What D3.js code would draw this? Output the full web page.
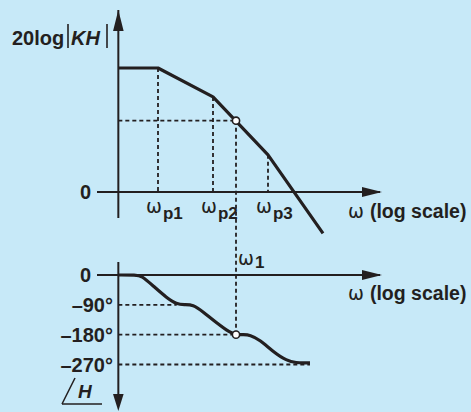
<!DOCTYPE html>
<html><head><meta charset="utf-8">
<script src="https://cdn.jsdelivr.net/npm/d3@7/dist/d3.min.js"></script>
<style>
html,body{margin:0;padding:0;background:#c7e9f8;}
svg{display:block;}
text{font-family:"Liberation Sans",Arial,sans-serif;font-weight:bold;fill:#231f20;}
</style></head>
<body>
<script>
// ---- data ----
const magOmega = [0.19, 1, 10, 100, 1000];
const magDb = [60, 60, 46, 18, -20];
const poleOmega = [1, 10, 100];
const poleLabels = ["p1", "p2", "p3"];
const omega1 = 26.2;
const magAtOmega1 = 34.5;
const phaseAtOmega1 = -180;
const phaseOmega = [0.19, 0.4, 0.5, 0.82, 1.44, 2.19, 3.0, 4.33, 6.58, 11.7, 20.4, 26.2, 36, 47, 71.5, 123, 219, 332, 450, 580];
const phaseDeg = [0, 0, -2, -33, -69, -88, -90, -89, -111, -145, -174, -180, -180, -181, -196, -231, -259, -265, -265, -265];
const phaseTicks = [-90, -180, -270];
const phaseTickLabels = ["\u201390\u00b0", "\u2013180\u00b0", "\u2013270\u00b0"];
const phaseGuideEnd = [2.19, 26.2, 580];
const xAxisLabel = "(log scale)";

const W = 471, H = 412, ink = "#231f20";
const svg = d3.select("body").append("svg").attr("width", W).attr("height", H);
svg.append("rect").attr("width", W).attr("height", H).attr("fill", "#c7e9f8");

const x = d3.scaleLog().domain([1, 100]).range([158, 268]);
const yMag = d3.scaleLinear().domain([0, 60]).range([192, 68]);
const yPh = d3.scaleLinear().domain([0, -270]).range([275, 364.5]);
const x0 = x(magOmega[0]);

const dash = "4,3";
function line(x1, y1, x2, y2, w, da) {
  svg.append("line").attr("x1", x1).attr("y1", y1).attr("x2", x2).attr("y2", y2)
    .attr("stroke", ink).attr("stroke-width", w).attr("stroke-dasharray", da || null);
}
function arrow(pts) {
  svg.append("polygon").attr("points", pts.map(p => p.join(",")).join(" ")).attr("fill", ink);
}

// ---- magnitude guides ----
const magAt = d3.scaleLog().domain(magOmega.slice(1)).range(magDb.slice(1));
poleOmega.forEach(w => line(x(w), yMag(magAt(w)), x(w), yMag(0), 1.8, dash));
line(x0, yMag(magAtOmega1), x(omega1), yMag(magAtOmega1), 1.8, dash);
line(x(omega1), yMag(magAtOmega1), x(omega1), yPh(phaseAtOmega1), 1.8, dash);

// ---- phase guides ----
phaseTicks.forEach((t, i) => line(x0, yPh(t), x(phaseGuideEnd[i]), yPh(t), 1.8, dash));

// ---- axes ----
line(x0, 10, x0, 218, 2);
arrow([[x0, 10], [x0 - 5.3, 31], [x0 + 5.3, 31]]);
line(97, yMag(0), 380, yMag(0), 2);
arrow([[382, yMag(0)], [362, yMag(0) - 5], [362, yMag(0) + 5]]);

line(x0, 262, x0, 400, 2);
arrow([[x0, 411], [x0 - 5.3, 394], [x0 + 5.3, 394]]);
line(97, yPh(0), 380, yPh(0), 2);
arrow([[382, yPh(0)], [362, yPh(0) - 5], [362, yPh(0) + 5]]);

// ---- curves ----
const magData = magOmega.map((w, i) => [w, magDb[i]]);
svg.append("path").datum(magData)
  .attr("d", d3.line().x(d => x(d[0])).y(d => yMag(d[1])))
  .attr("fill", "none").attr("stroke", ink).attr("stroke-width", 3.2).attr("stroke-linejoin", "round");

const phData = phaseOmega.map((w, i) => [w, phaseDeg[i]]);
svg.append("path").datum(phData)
  .attr("d", d3.line().curve(d3.curveBasis).x(d => x(d[0])).y(d => yPh(d[1])))
  .attr("fill", "none").attr("stroke", ink).attr("stroke-width", 3.2);

// ---- circles ----
[[omega1, yMag(magAtOmega1)], [omega1, yPh(phaseAtOmega1)]].forEach(c => {
  svg.append("circle").attr("cx", x(c[0])).attr("cy", c[1]).attr("r", 3.6)
    .attr("fill", "#fff").attr("stroke", ink).attr("stroke-width", 1.6);
});

// ---- labels ----
function omegaLabel(px, py, sub, subDy) {
  const t = svg.append("text").attr("x", px).attr("y", py).style("font-size", "18px");
  t.append("tspan").text("\u03c9").style("font-weight", "normal")
    .style("font-family", "'DejaVu Sans',sans-serif").style("font-size", "19px");
  if (sub) t.append("tspan").attr("dx", 1).attr("dy", subDy).text(sub).style("font-size", "17px");
  return t;
}
poleOmega.forEach((w, i) => omegaLabel(x(w) - 12, 213, poleLabels[i], 6));
omegaLabel(x(omega1) + 2, 265, "1", 3);

[yMag(0), yPh(0)].forEach(yy => {
  svg.append("text").attr("x", 85.5).attr("y", yy + 7).attr("text-anchor", "middle")
    .style("font-size", "20px").text("0");
});
phaseTicks.forEach((t, i) => {
  svg.append("text").attr("x", 113).attr("y", yPh(t) + 7).attr("text-anchor", "end")
    .style("font-size", "20px").text(phaseTickLabels[i]);
});

[218, 300].forEach(yy => {
  const t = svg.append("text").attr("x", 348).attr("y", yy).style("font-size", "19.5px");
  t.append("tspan").text("\u03c9 ").style("font-weight", "normal")
    .style("font-family", "'DejaVu Sans',sans-serif").style("font-size", "19px");
  t.append("tspan").text(xAxisLabel);
});

// 20log|KH|
svg.append("text").attr("x", 12).attr("y", 45).style("font-size", "20px").text("20log");
line(68, 24, 68, 48, 1.6);
svg.append("text").attr("x", 71).attr("y", 45).style("font-size", "20px").style("font-style", "italic").text("KH");
line(107, 24, 107, 48, 1.6);

// angle H
line(62, 404, 75, 378, 1.6);
line(62, 404, 102, 404, 1.6);
svg.append("text").attr("x", 78).attr("y", 398).style("font-size", "19px").style("font-style", "italic").text("H");
</script>
</body></html>
